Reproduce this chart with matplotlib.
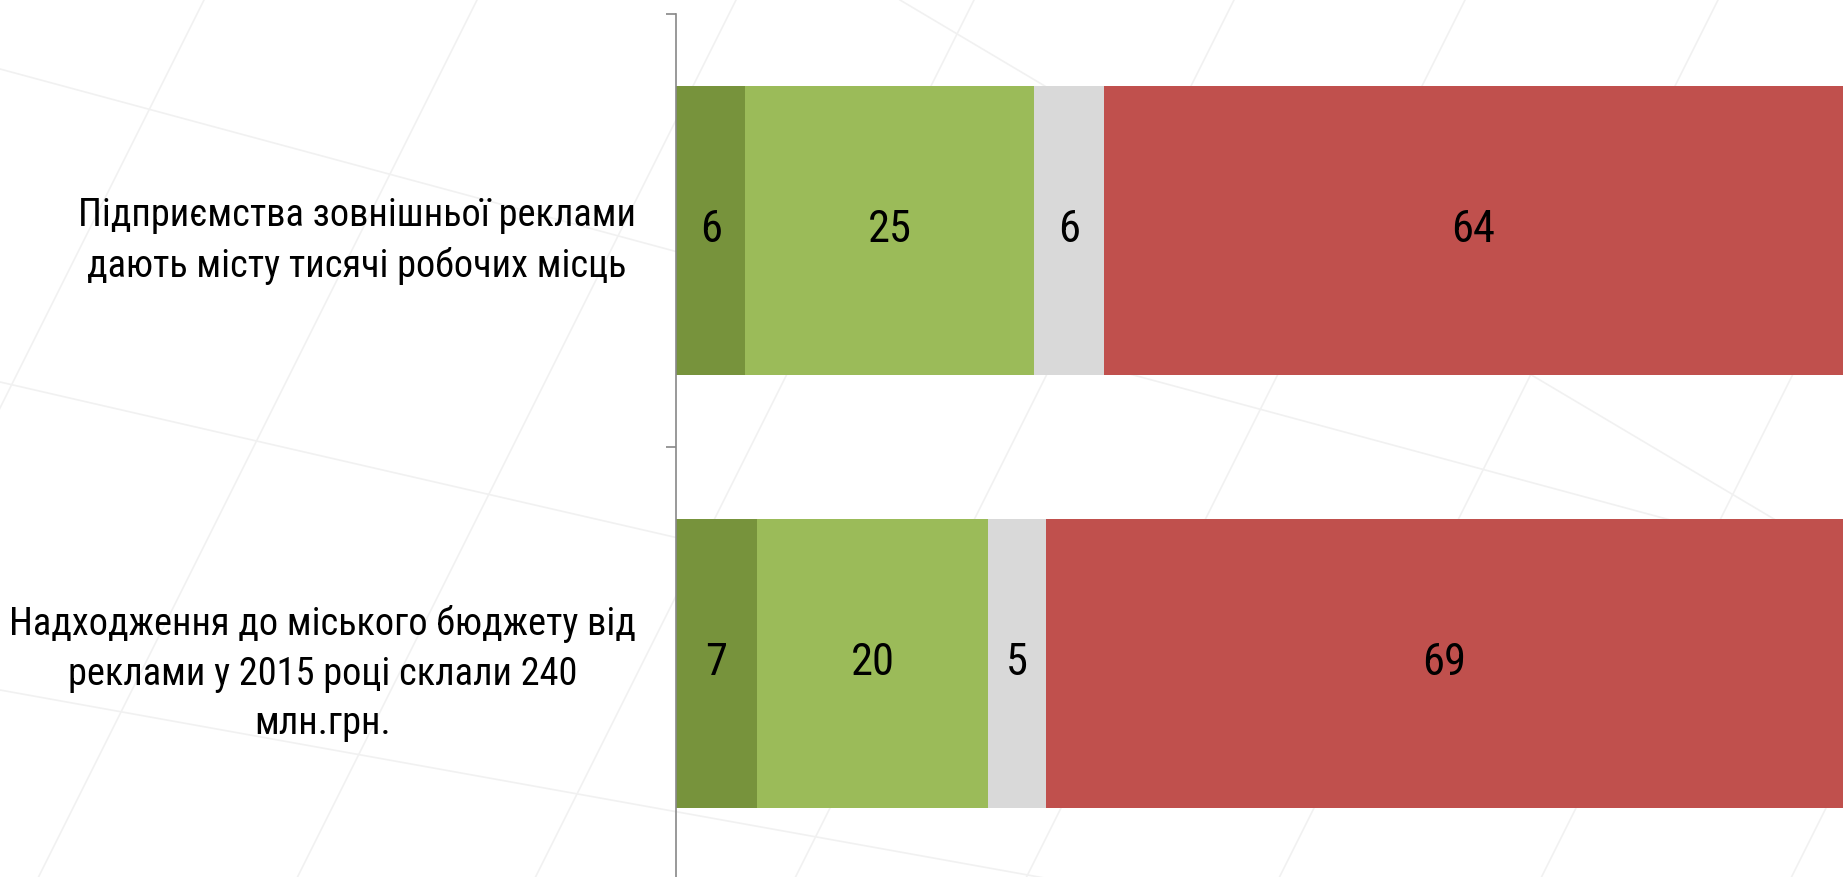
import matplotlib
matplotlib.use("Agg")
import matplotlib.pyplot as plt
from matplotlib.lines import Line2D
from matplotlib import font_manager

categories = ["Підприємства зовнішньої реклами\nдають місту тисячі робочих місць",
              "Надходження до міського бюджету від\nреклами у 2015 році склали 240\nмлн.грн."]
series_names = ["Повністю згоден", "Скоріше згоден", "Важко відповісти", "Не згоден"]
series_values = [
    [6, 7],
    [25, 20],
    [6, 5],
    [64, 69],
]
colors = ["#77933C", "#9BBB59", "#D9D9D9", "#C0504D"]

installed = {f.name for f in font_manager.fontManager.ttflist}
primary = "DejaVu Sans"
for cand in ["Liberation Sans Narrow", "Roboto Condensed", "Roboto", "Liberation Sans"]:
    if cand in installed:
        primary = cand
        break
font = [primary, "DejaVu Sans"]
plt.rcParams['font.family'] = font

W, H = 1843, 877
fig = plt.figure(figsize=(W / 100, H / 100), dpi=100)
fig.patch.set_facecolor("white")

# faint decorative background lines (pixel coords, y downward)
def px_line(x0, y0, x1, y1):
    fig.add_artist(Line2D([x0 / W, x1 / W], [1 - y0 / H, 1 - y1 / H],
                          transform=fig.transFigure, color="#F1F1F1", lw=1.2, zorder=0))

for xt in [204, 477, 736, 974, 1234, 1465, 1718, 1980, 2230]:
    px_line(xt, 0, xt - 0.5 * H, H)
px_line(0, 69, W, 69 + 0.27 * W)
px_line(0, 382, W, 382 + 0.23 * W)
px_line(0, 690, W, 690 + 0.18 * W)
px_line(900, 0, W, 560)

label_size = 29
num_size = 32

ax = fig.add_axes([676 / W, -3 / H, 1 - 676 / W, 866 / H])
ax.patch.set_alpha(0)

y = list(range(len(categories)))
left = [0] * len(categories)
for vals, name, c in zip(series_values, series_names, colors):
    bars = ax.barh(y, vals, left=left, height=0.667, color=c, label=name, zorder=2)
    ax.bar_label(bars, labels=[str(v) for v in vals], label_type='center',
                 fontsize=num_size, color="black")
    left = [l + v for l, v in zip(left, vals)]

ax.set_xlim(0, 101)
ax.set_ylim(1.5, -0.5)
ax.set_yticks(y)
ax.set_yticklabels(categories, fontsize=label_size, ha='right', multialignment='center',
                   linespacing=1.42)
ax.tick_params(axis='y', which='major', length=0, pad=29)
ax.set_yticks([-0.5, 0.5, 1.5], minor=True)
ax.tick_params(axis='y', which='minor', length=7, width=1.2, color="#888888", direction='out')
ax.set_xticks([])
for s in ["top", "right", "bottom"]:
    ax.spines[s].set_visible(False)
ax.spines["left"].set_color("#888888")
ax.spines["left"].set_linewidth(1.2)

# fit label width to the reference (widest line of second label ~630 px)
fig.canvas.draw()
r = fig.canvas.get_renderer()
probe = fig.text(0, 0, "Надходження до міського бюджету від", fontsize=label_size)
wpx = probe.get_window_extent(r).width
probe.remove()
factor = min(1.0, 628 / wpx)
for t in ax.get_yticklabels():
    t.set_fontsize(label_size * factor)

fig.savefig("out.png", dpi=100, facecolor="white")
